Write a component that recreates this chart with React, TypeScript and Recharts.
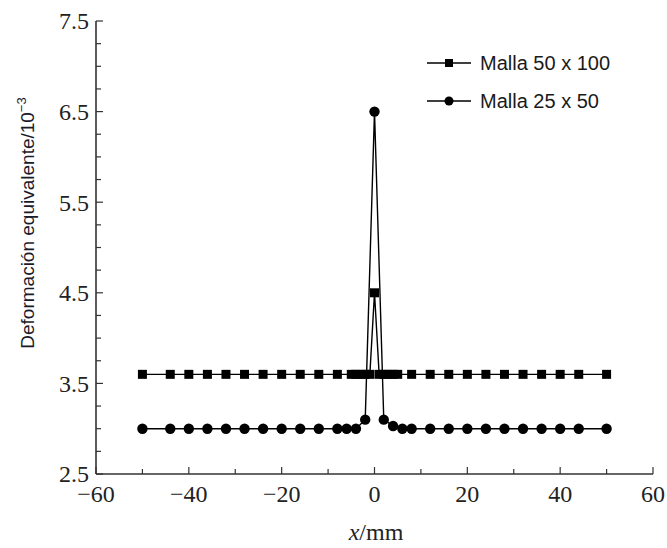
import React from 'react';
import { LineChart, Line, XAxis, YAxis, Legend } from 'recharts';

// Malla 50 x 100 (cuadrados)
const fineX = [-50, -44, -40, -36, -32, -28, -24, -20, -16, -12, -8, -5, -4, -3, -2, -1, 0, 1, 2, 3, 4, 5, 8, 12, 16, 20, 24, 28, 32, 36, 40, 44, 50];
const fineY = [3.6, 3.6, 3.6, 3.6, 3.6, 3.6, 3.6, 3.6, 3.6, 3.6, 3.6, 3.6, 3.6, 3.6, 3.6, 3.6, 4.5, 3.6, 3.6, 3.6, 3.6, 3.6, 3.6, 3.6, 3.6, 3.6, 3.6, 3.6, 3.6, 3.6, 3.6, 3.6, 3.6];

// Malla 25 x 50 (círculos)
const coarseX = [-50, -44, -40, -36, -32, -28, -24, -20, -16, -12, -8, -6, -4, -2, 0, 2, 4, 6, 8, 12, 16, 20, 24, 28, 32, 36, 40, 44, 50];
const coarseY = [3.0, 3.0, 3.0, 3.0, 3.0, 3.0, 3.0, 3.0, 3.0, 3.0, 3.0, 3.0, 3.0, 3.1, 6.5, 3.1, 3.03, 3.0, 3.0, 3.0, 3.0, 3.0, 3.0, 3.0, 3.0, 3.0, 3.0, 3.0, 3.0];

const seriesNames = ['Malla 50 x 100', 'Malla 25 x 50'];
const xTicks = [-60, -50, -40, -30, -20, -10, 0, 10, 20, 30, 40, 50, 60];
const yTicks = [2.5, 2.75, 3, 3.25, 3.5, 3.75, 4, 4.25, 4.5, 4.75, 5, 5.25, 5.5, 5.75, 6, 6.25, 6.5, 6.75, 7, 7.25, 7.5];

const fineData = fineX.map((x, i) => ({ x, y: fineY[i] }));
const coarseData = coarseX.map((x, i) => ({ x, y: coarseY[i] }));

const SERIF = '"Liberation Serif", "Times New Roman", serif';
const SANS = '"Liberation Sans", Arial, sans-serif';
const AXIS = '#333';

const fmt = (v: number) => (v < 0 ? '\u2212' + Math.abs(v) : String(v));

const XTick = ({ x, y, payload }: any) => {
  const v = payload.value;
  const major = v % 20 === 0;
  return (
    <g>
      <line x1={x} x2={x} y1={y} y2={y - (major ? 7 : 5)} stroke={AXIS} strokeWidth={1.2} />
      {major && (
        <text x={x} y={y + 20} dy="0.35em" textAnchor="middle" fontFamily={SERIF} fontSize={24} fill="#222">
          {fmt(v)}
        </text>
      )}
    </g>
  );
};

const YTick = ({ x, y, payload }: any) => {
  const v = payload.value;
  const major = Math.abs((v - 2.5) % 1) < 1e-6;
  return (
    <g>
      <line x1={x} x2={x + (major ? 7 : 5)} y1={y} y2={y} stroke={AXIS} strokeWidth={1.2} />
      {major && (
        <text x={x - 7} y={y} dy="0.35em" textAnchor="end" fontFamily={SERIF} fontSize={24} fill="#222">
          {v.toFixed(1)}
        </text>
      )}
    </g>
  );
};

const SquareDot = (p: any) => (
  <rect key={`s${p.index}`} x={p.cx - 4.5} y={p.cy - 4.5} width={9} height={9} fill="#000" />
);
const CircleDot = (p: any) => <circle key={`c${p.index}`} cx={p.cx} cy={p.cy} r={5.2} fill="#000" />;

const LegendContent = () => (
  <div style={{ position: 'relative', height: 80, fontFamily: SANS, fontSize: 20, color: '#1a1a1a' }}>
    {seriesNames.map((name, i) => (
      <div key={name} style={{ position: 'absolute', left: 0, top: i * 38, height: 26, display: 'flex', alignItems: 'center' }}>
        <svg width={50} height={26}>
          <line x1={2} x2={46} y1={13} y2={13} stroke="#000" strokeWidth={1.5} />
          {i === 0 ? <rect x={20} y={9} width={8} height={8} fill="#000" /> : <circle cx={24} cy={13} r={4.5} fill="#000" />}
        </svg>
        <span style={{ marginLeft: 5, lineHeight: '26px', whiteSpace: 'nowrap' }}>{name}</span>
      </div>
    ))}
  </div>
);

const YLabel = () => (
  <text x={27} y={223} transform="rotate(-90 27 223)" textAnchor="middle" dy="0.35em" fontFamily={SANS} fontSize={19} fill="#1a1a2a">
    Deformación equivalente/10
    <tspan dy={-8} fontSize={13}>{'\u22123'}</tspan>
  </text>
);

const XLabel = () => (
  <text x={376} y={532} textAnchor="middle" dy="0.35em" fontFamily={SERIF} fontSize={24} fill="#222">
    <tspan fontStyle="italic">x</tspan>/mm
  </text>
);

export default function App() {
  return (
    <div style={{ position: 'absolute', left: 0, top: 0, background: '#fff' }}>
      <LineChart width={667} height={548} margin={{ top: 21, right: 14, left: 0, bottom: 0 }}>
        <XAxis
          xAxisId="b"
          type="number"
          dataKey="x"
          domain={[-60, 60]}
          ticks={xTicks}
          interval={0}
          height={74}
          tickSize={0}
          tickMargin={0}
          tickLine={false}
          tick={<XTick />}
          axisLine={{ stroke: AXIS, strokeWidth: 1.6 }}
          label={<XLabel />}
          allowDataOverflow
        />
        <XAxis xAxisId="t" orientation="top" type="number" dataKey="x" domain={[-60, 60]} height={0} tick={false} tickLine={false} axisLine={{ stroke: AXIS, strokeWidth: 1.6 }} />
        <YAxis
          yAxisId="l"
          type="number"
          domain={[2.5, 7.5]}
          ticks={yTicks}
          interval={0}
          width={96}
          tickSize={0}
          tickMargin={0}
          tickLine={false}
          tick={<YTick />}
          axisLine={{ stroke: AXIS, strokeWidth: 1.6 }}
          label={<YLabel />}
          allowDataOverflow
        />
        <YAxis yAxisId="r" orientation="right" type="number" domain={[2.5, 7.5]} width={0} tick={false} tickLine={false} axisLine={{ stroke: AXIS, strokeWidth: 1.6 }} />
        <Legend
          layout="vertical"
          verticalAlign="middle"
          align="center"
          content={<LegendContent />}
          wrapperStyle={{ position: 'absolute', left: 425, top: 50, width: 230 }}
        />
        <Line
          xAxisId="b"
          yAxisId="l"
          data={fineData}
          dataKey="y"
          name={seriesNames[0]}
          stroke="#000"
          strokeWidth={1.4}
          dot={SquareDot}
          activeDot={false}
          isAnimationActive={false}
        />
        <Line
          xAxisId="b"
          yAxisId="l"
          data={coarseData}
          dataKey="y"
          name={seriesNames[1]}
          stroke="#000"
          strokeWidth={1.4}
          dot={CircleDot}
          activeDot={false}
          isAnimationActive={false}
        />
      </LineChart>
    </div>
  );
}
